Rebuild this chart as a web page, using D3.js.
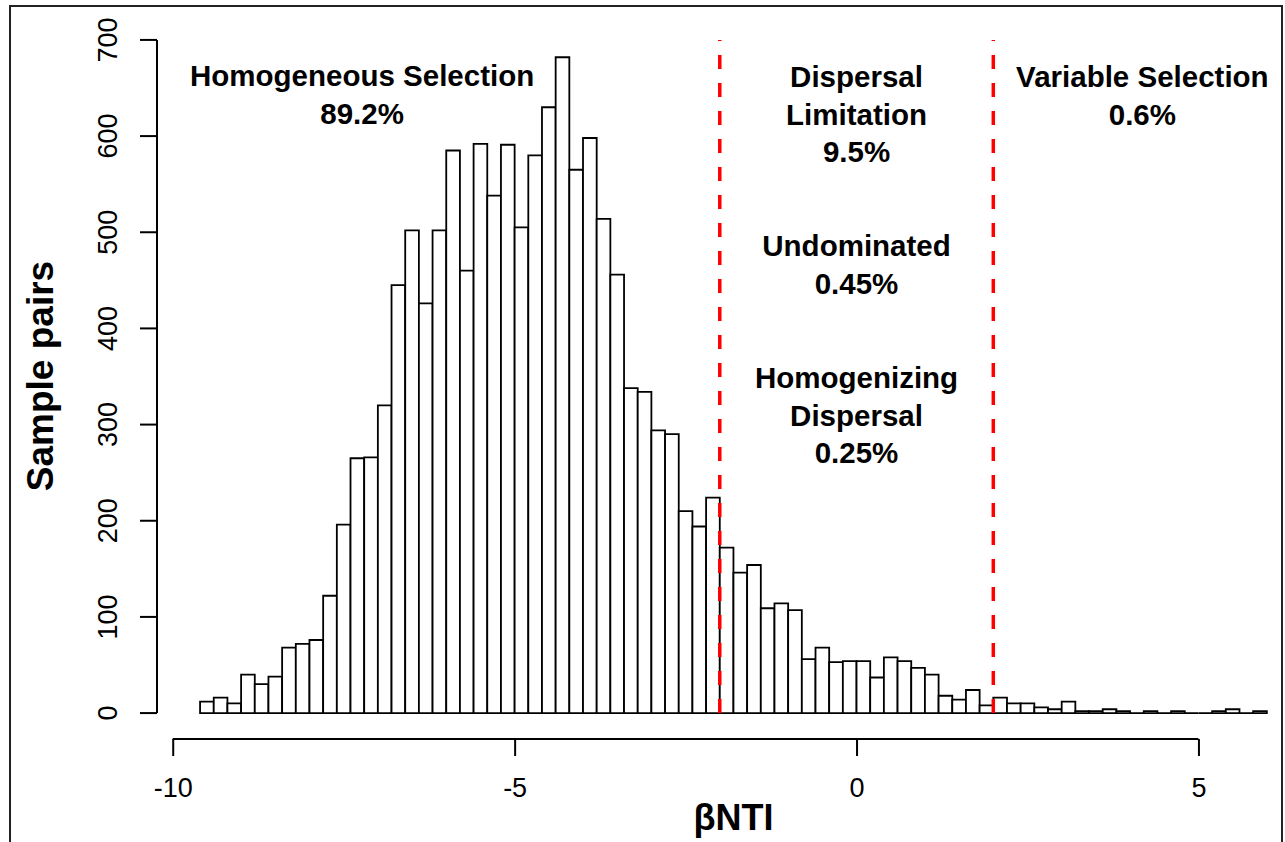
<!DOCTYPE html>
<html>
<head>
<meta charset="utf-8">
<script src="https://cdn.jsdelivr.net/npm/d3@7"></script>
<style>
  html, body { margin: 0; padding: 0; background: #fff; }
  svg text { font-family: "Liberation Sans", Arial, Helvetica, sans-serif; fill: #000; }
</style>
</head>
<body>
<svg id="chart"></svg>
<script>
// Histogram of betaNTI values (bin width 0.2)
const binLeft = [
  -9.6, -9.4, -9.2, -9.0, -8.8, -8.6, -8.4, -8.2, -8.0, -7.8,
  -7.6, -7.4, -7.2, -7.0, -6.8, -6.6, -6.4, -6.2, -6.0, -5.8,
  -5.6, -5.4, -5.2, -5.0, -4.8, -4.6, -4.4, -4.2, -4.0, -3.8,
  -3.6, -3.4, -3.2, -3.0, -2.8, -2.6, -2.4, -2.2, -2.0, -1.8,
  -1.6, -1.4, -1.2, -1.0, -0.8, -0.6, -0.4, -0.2, 0.0, 0.2,
  0.4, 0.6, 0.8, 1.0, 1.2, 1.4, 1.6, 1.8, 2.0, 2.2,
  2.4, 2.6, 2.8, 3.0, 3.2, 3.4, 3.6, 3.8, 4.0, 4.2,
  4.4, 4.6, 4.8, 5.0, 5.2, 5.4, 5.6, 5.8
];
const binWidth = 0.2;
const counts = [
  12, 16, 10, 40, 30, 38, 68, 72, 76, 122,
  196, 265, 266, 320, 445, 502, 426, 502, 585, 460,
  592, 538, 591, 505, 580, 630, 682, 565, 598, 514,
  456, 338, 334, 294, 290, 210, 194, 224, 172, 146,
  154, 109, 114, 107, 56, 68, 53, 54, 54, 37,
  58, 54, 47, 40, 18, 14, 24, 8, 16, 10,
  10, 6, 4, 12, 2, 2, 4, 2, 0, 2,
  0, 2, 0, 0, 2, 4, 0, 2
];

const xTicks = [-10, -5, 0, 5];
const yTicks = [0, 100, 200, 300, 400, 500, 600, 700];
const cutoffs = [-2, 2];

// annotation text blocks
const homSelLines = ["Homogeneous Selection", "89.2%"];
const dispLimLines = ["Dispersal", "Limitation", "9.5%"];
const undomLines = ["Undominated", "0.45%"];
const homDispLines = ["Homogenizing", "Dispersal", "0.25%"];
const varSelLines = ["Variable Selection", "0.6%"];

const width = 1285;
const height = 842;

const svg = d3.select("#chart")
  .attr("width", width)
  .attr("height", height);

// outer figure frame (cropped at the bottom)
svg.append("rect")
  .attr("x", 10).attr("y", 6)
  .attr("width", 1272).attr("height", 900)
  .attr("fill", "none")
  .attr("stroke", "#222")
  .attr("stroke-width", 2);

// R-like plot region: xlim/ylim extended by 4%
const x = d3.scaleLinear().domain([-10.224, 6.624]).range([157.4, 1309.5]);
const y = d3.scaleLinear().domain([-28, 728]).range([740, 13]);

// bars as closed paths so empty bins still leave a line on the baseline
svg.append("g")
  .selectAll("path")
  .data(counts)
  .enter()
  .append("path")
  .attr("d", (d, i) => {
    const x0 = x(binLeft[i]);
    const x1 = x(binLeft[i] + binWidth);
    return `M${x0},${y(0)}V${y(d)}H${x1}V${y(0)}Z`;
  })
  .attr("fill", "#fff")
  .attr("stroke", "#000")
  .attr("stroke-width", 1.8);

// dashed cutoff lines at -2 and 2
svg.append("g")
  .selectAll("line")
  .data(cutoffs)
  .enter()
  .append("line")
  .attr("x1", d => x(d)).attr("x2", d => x(d))
  .attr("y1", y(0)).attr("y2", y(700))
  .attr("stroke", "#ff0000")
  .attr("stroke-width", 3.5)
  .attr("stroke-dasharray", "14,14");

// x axis
const xAxis = svg.append("g")
  .attr("transform", "translate(0,739)")
  .call(d3.axisBottom(x).tickValues(xTicks).tickSize(17).tickPadding(22)
    .tickFormat(d => String(d)));
xAxis.select(".domain").remove();
xAxis.append("line")
  .attr("x1", x(xTicks[0])).attr("x2", x(xTicks[xTicks.length - 1]))
  .attr("stroke", "#000").attr("stroke-width", 2);
xAxis.selectAll(".tick line").attr("stroke", "#000").attr("stroke-width", 2);
xAxis.selectAll(".tick text")
  .attr("font-size", 27)
  .attr("font-family", "Liberation Sans, Arial, sans-serif")
  .attr("fill", "#000");

// y axis, R style with rotated labels
const yAxis = svg.append("g").attr("transform", "translate(157,0)");
yAxis.append("line")
  .attr("y1", y(yTicks[0])).attr("y2", y(yTicks[yTicks.length - 1]))
  .attr("stroke", "#000").attr("stroke-width", 2);
yAxis.selectAll(".ytick")
  .data(yTicks)
  .enter()
  .append("line")
  .attr("x1", -17).attr("x2", 0)
  .attr("y1", d => y(d)).attr("y2", d => y(d))
  .attr("stroke", "#000").attr("stroke-width", 2);
yAxis.selectAll(".ylab")
  .data(yTicks)
  .enter()
  .append("text")
  .attr("transform", d => `translate(-40,${y(d)}) rotate(-90)`)
  .attr("text-anchor", "middle")
  .attr("font-size", 27)
  .text(d => d);

// axis titles
svg.append("text")
  .attr("x", x(-1.8)).attr("y", 830)
  .attr("text-anchor", "middle")
  .attr("font-size", 36)
  .attr("font-weight", "bold")
  .text("βNTI");

svg.append("text")
  .attr("transform", "translate(53,376) rotate(-90)")
  .attr("text-anchor", "middle")
  .attr("font-size", 37)
  .attr("font-weight", "bold")
  .text("Sample pairs");

// annotation blocks
function addBlock(lines, cx, baseY) {
  svg.append("g")
    .selectAll("text")
    .data(lines)
    .enter()
    .append("text")
    .attr("x", cx)
    .attr("y", (d, i) => baseY + i * 37.5)
    .attr("text-anchor", "middle")
    .attr("font-size", 29.5)
    .attr("font-weight", "bold")
    .text(d => d);
}

addBlock(homSelLines, x(-7.23), 86);
addBlock(dispLimLines, x(0), 87);
addBlock(undomLines, x(0), 256);
addBlock(homDispLines, x(0), 388);
addBlock(varSelLines, x(4.18), 87);
</script>
</body>
</html>
